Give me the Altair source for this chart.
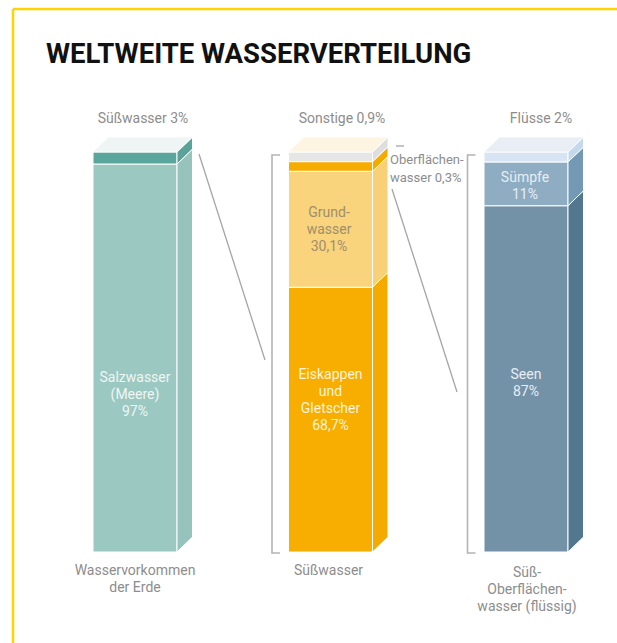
import altair as alt
import pandas as pd

# ---------------- data ----------------
TITLE = "WELTWEITE WASSERVERTEILUNG"
bar_names = ["Wasservorkommen\nder Erde", "Süßwasser", "Süß-\nOberflächen-\nwasser (flüssig)"]
top_labels = ["Süßwasser 3%", "Sonstige 0,9%", "Flüsse 2%"]

seg_bar = [0, 0, 1, 1, 1, 1, 2, 2, 2]
seg_name = ["Salzwasser (Meere)", "Süßwasser", "Eiskappen und Gletscher", "Grundwasser",
            "Oberflächenwasser", "Sonstige", "Seen", "Sümpfe", "Flüsse"]
seg_value = [97, 3, 68.7, 30.1, 0.3, 0.9, 87, 11, 2]
front_color = ["#9BC8C1", "#5BA69C", "#F7AE00", "#F9D47C", "#F7AC00", "#E6E6E6",
               "#7492A7", "#8EACC2", "#D6E4F4"]
side_color = ["#96C4BD", "#5AA39A", "#F5AA00", "#F8D077", "#F5AA00", "#DEDEDE",
              "#53778F", "#7399B4", "#C5D8EE"]
top_color = ["#EEF5F4", "#FEF4E2", "#E8EEF3"]

# ---------------- layout (pixel -> scale units) ----------------
W, H = 617, 643
X0, STEP = 135.0, 195.5          # bar 0 centre, distance between bars
YB, PXU = 552.0, 4.0             # baseline pixel, pixels per percent
PX = 1 / STEP
PY = 1 / PXU
HALF = 42 * PX
DX = 15.5 * PX
DY = 15 * PY
MIN_BAND = 2.5                   # minimum visible band height (percent of bar)


def px(p):
    return (p - X0) / STEP


def py(p):
    return (YB - p) / PXU


XS = alt.Scale(domain=[px(0), px(W)], nice=False, zero=False)
YS = alt.Scale(domain=[py(H), py(0)], nice=False, zero=False)

# stacking
front_rows, side_rows = [], []
for b in range(3):
    idx = [k for k in range(len(seg_bar)) if seg_bar[k] == b]
    shown = [max(seg_value[k], MIN_BAND) for k in idx]
    tot = sum(shown)
    acc = 0.0
    for k, s in zip(idx, shown):
        y0 = acc / tot * 100
        acc += s
        y1 = acc / tot * 100
        front_rows.append(dict(name=seg_name[k], x=b - HALF, x2=b + HALF, y=y0, y2=y1, fill=front_color[k]))
        side_rows.append(dict(id=k, x=b + HALF, y=y0, y2=y1, fill=side_color[k]))
        side_rows.append(dict(id=k, x=b + HALF + DX, y=y0 + DY, y2=y1 + DY, fill=side_color[k]))

top_rows = []
for b in range(3):
    top_rows.append(dict(id=b, y=100, x=b - HALF, x2=b + HALF, fill=top_color[b]))
    top_rows.append(dict(id=b, y=100 + DY, x=b - HALF + DX, x2=b + HALF + DX, fill=top_color[b]))

front = alt.Chart(pd.DataFrame(front_rows)).mark_rect(stroke="white", strokeWidth=1).encode(
    x=alt.X("x:Q", scale=XS, axis=None), x2="x2:Q",
    y=alt.Y("y:Q", scale=YS, axis=None), y2="y2:Q",
    fill=alt.Fill("fill:N", scale=None),
)
side = alt.Chart(pd.DataFrame(side_rows)).mark_area(stroke="white", strokeWidth=1).encode(
    x=alt.X("x:Q", scale=XS, axis=None),
    y=alt.Y("y:Q", scale=YS, axis=None), y2="y2:Q",
    fill=alt.Fill("fill:N", scale=None),
    detail="id:N",
)
top = alt.Chart(pd.DataFrame(top_rows)).mark_area(orient="horizontal", stroke="white", strokeWidth=0.8).encode(
    y=alt.Y("y:Q", scale=YS, axis=None),
    x=alt.X("x:Q", scale=XS, axis=None), x2="x2:Q",
    fill=alt.Fill("fill:N", scale=None),
    detail="id:N",
)

# brackets and connector lines
line_rows = []
for b in (1, 2):
    xb = b - 58.5 * PX
    pts = [(xb + 8 * PX, py(155)), (xb, py(155)), (xb, py(553)), (xb + 8 * PX, py(553))]
    for o, (x, y) in enumerate(pts):
        line_rows.append(dict(id=f"br{b}", o=o, x=x, y=y, w=1.6, c="#B4B4B4"))
connectors = [[(199, 154), (265, 360)], [(392, 189), (457, 392)], [(396, 146), (404, 146)]]
for n, seg in enumerate(connectors):
    for o, (x, y) in enumerate(seg):
        line_rows.append(dict(id=f"c{n}", o=o, x=px(x), y=py(y), w=1.3, c="#A5A5A5"))

lines = alt.Chart(pd.DataFrame(line_rows)).mark_line().encode(
    x=alt.X("x:Q", scale=XS, axis=None),
    y=alt.Y("y:Q", scale=YS, axis=None),
    detail="id:N", order="o:Q",
    color=alt.Color("c:N", scale=None),
    strokeWidth=alt.StrokeWidth("w:Q", scale=None),
)

FONT = "Roboto"
GREY = "#8D8D8D"
# y = centre of the first text line
lab_rows = []
for b in range(3):
    lab_rows.append(dict(t=top_labels[b], x=b + (8 + 3.5 * b) * PX, y=py(119), c=GREY))
lab_rows += [
    dict(t=bar_names[0], x=0, y=py(571), c=GREY),
    dict(t=bar_names[1], x=1 - 2 * PX, y=py(571), c=GREY),
    dict(t=bar_names[2], x=2 + 1 * PX, y=py(573), c=GREY),
    dict(t="Salzwasser\n(Meere)\n97%", x=0, y=py(378), c="#EEF6F4"),
    dict(t="Grund-\nwasser\n30,1%", x=1 - 1.5 * PX, y=py(213), c="#A08E6C"),
    dict(t="Eiskappen\nund\nGletscher\n68,7%", x=1, y=py(375), c="#FFF4DC"),
    dict(t="Sümpfe\n11%", x=2 - 1 * PX, y=py(178), c="#E6EEF4"),
    dict(t="Seen\n87%", x=2, y=py(375), c="#E6EEF4"),
]
labels = alt.Chart(pd.DataFrame(lab_rows)).mark_text(
    font=FONT, fontSize=14, lineBreak="\n", lineHeight=17, baseline="middle", align="center"
).encode(
    x=alt.X("x:Q", scale=XS, axis=None),
    y=alt.Y("y:Q", scale=YS, axis=None),
    text="t:N",
    color=alt.Color("c:N", scale=None),
)
side_label = alt.Chart(pd.DataFrame([dict(t="Oberflächen-\nwasser 0,3%", x=px(390), y=py(160))])).mark_text(
    font=FONT, fontSize=13, lineBreak="\n", lineHeight=17.5, baseline="middle", align="left", color=GREY
).encode(
    x=alt.X("x:Q", scale=XS, axis=None),
    y=alt.Y("y:Q", scale=YS, axis=None),
    text="t:N",
)

title = alt.Chart(pd.DataFrame({"t": [TITLE]})).mark_text(
    font="Roboto", fontSize=27.5, fontWeight="bold", align="left",
    baseline="alphabetic", color="#111111"
).encode(x=alt.value(46), y=alt.value(63), text="t:N")

one = pd.DataFrame({"a": [0]})
frame_l = alt.Chart(one).mark_rule(color="#FFD400", strokeWidth=2.5).encode(
    x=alt.value(13), y=alt.value(9), y2=alt.value(H))
frame_t = alt.Chart(one).mark_rule(color="#FFD400", strokeWidth=2.5).encode(
    x=alt.value(13), x2=alt.value(W), y=alt.value(9))

chart = alt.layer(frame_l, frame_t, title, lines, front, side, top, labels, side_label).properties(
    width=W, height=H, padding=0, autosize=alt.AutoSizeParams(type="none"),
    background="white",
).configure_view(stroke=None)

chart.save("out.html", embed_options={"renderer": "svg", "actions": False})
